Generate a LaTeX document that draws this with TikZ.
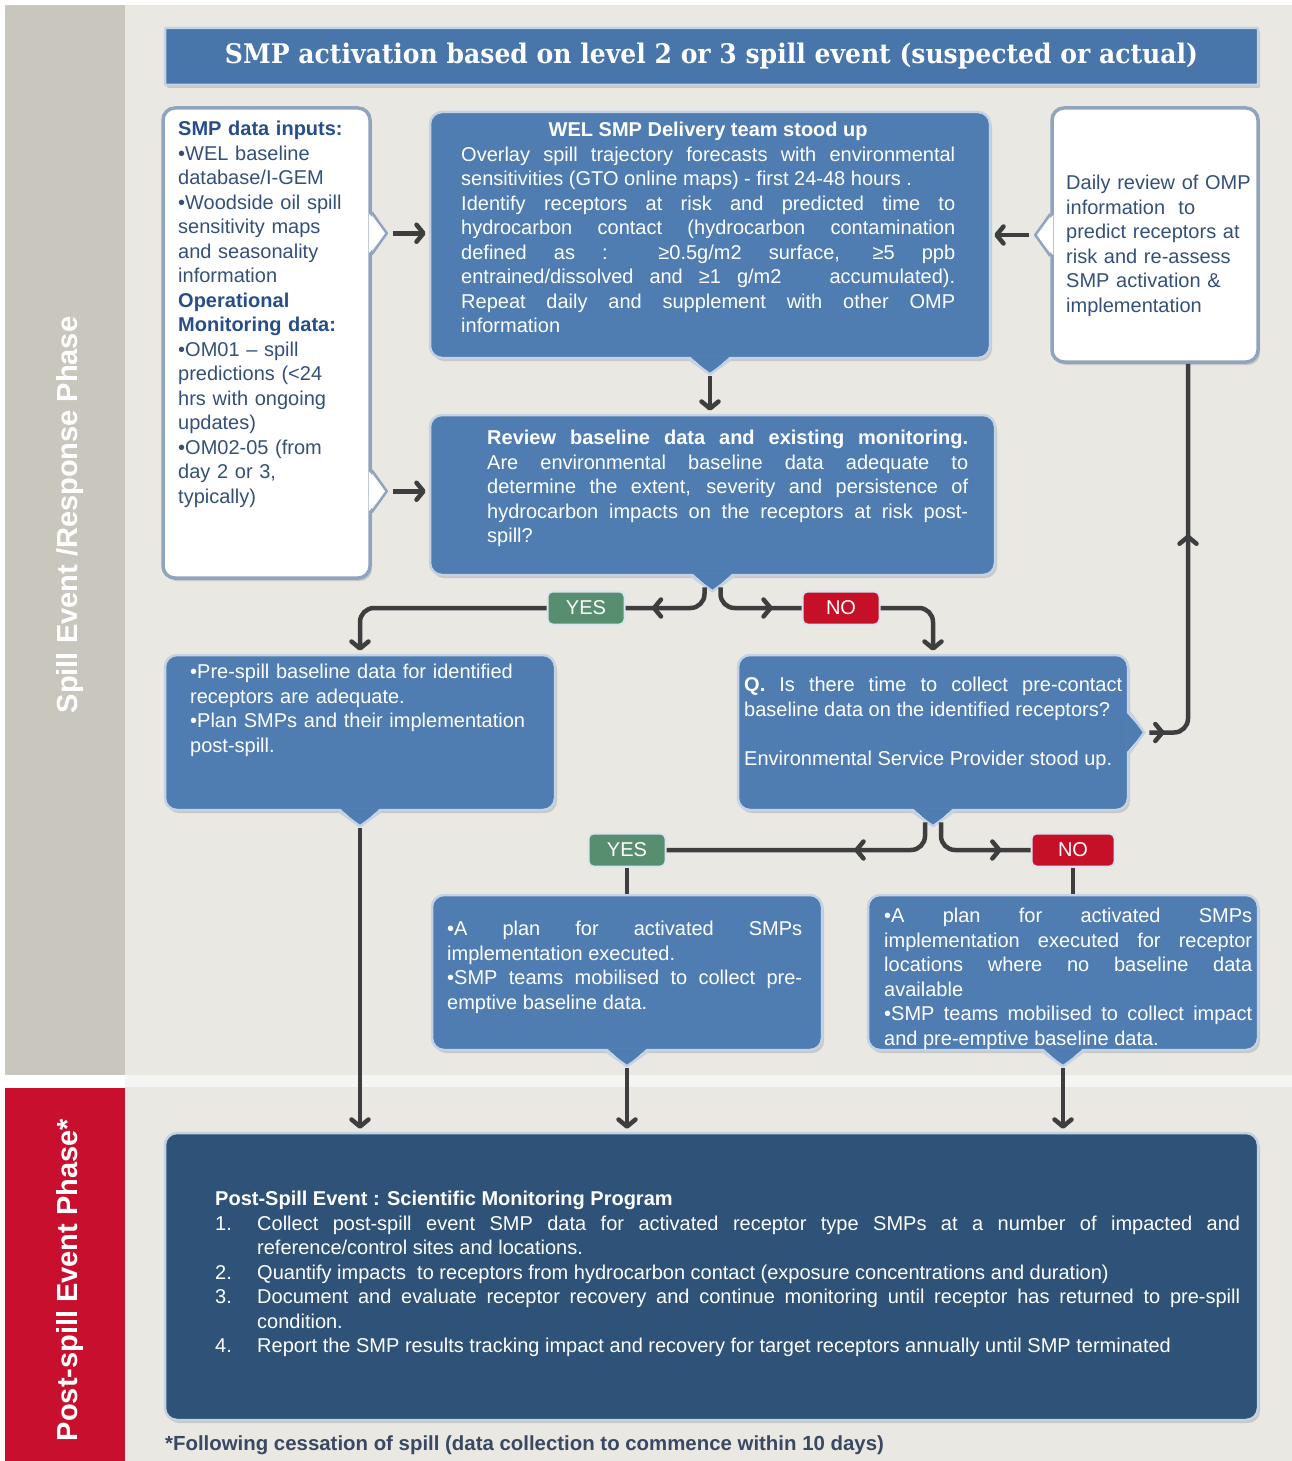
\documentclass[tikz,border=0pt]{standalone}
\usepackage{fontspec}
\setmainfont{Liberation Sans}
\newfontfamily\slabfont{DejaVu Serif}
\usetikzlibrary{arrows.meta,positioning,calc,shadows,decorations.markings}

\definecolor{pagebg}{RGB}{233,232,227}
\definecolor{sidegrey}{RGB}{201,199,189}
\definecolor{sidered}{RGB}{200,16,46}
\definecolor{boxblue}{RGB}{79,125,178}
\definecolor{barblue}{RGB}{72,117,170}
\definecolor{deepblue}{RGB}{46,82,120}
\definecolor{rimblue}{RGB}{196,211,228}
\definecolor{rimgrey}{RGB}{145,164,190}
\definecolor{inktext}{RGB}{52,80,122}
\definecolor{headtext}{RGB}{40,78,138}
\definecolor{yesgreen}{RGB}{88,142,112}
\definecolor{nored}{RGB}{198,16,40}
\definecolor{wire}{RGB}{62,62,62}
\definecolor{notegrey}{RGB}{58,72,98}

\begin{document}
\begin{tikzpicture}[
  x=1pt,y=-1pt,
  font=\fontsize{20}{24.5}\selectfont,
  >={Straight Barb[round,length=7pt,width=17pt]},
  box/.style={rounded corners=12pt,line width=2.5pt,inner sep=0pt,
              drop shadow={opacity=.3,shadow xshift=2pt,shadow yshift=-3pt}},
  bluebox/.style={box,draw=rimblue,fill=boxblue},
  whitebox/.style={box,draw=rimgrey,line width=3.5pt,fill=white},
  txt/.style={anchor=north west,inner sep=0pt,text=white},
  jtxt/.style={txt,align=justify,text width=#1},
  ltxt/.style={txt,align=left,text width=#1},
  tag/.style={rounded corners=5pt,draw=rimblue!60!white,line width=2pt,text=white,
              minimum width=77pt,minimum height=33pt,inner sep=0pt},
  flow/.style={draw=wire,line width=4.5pt,rounded corners=14pt},
  midarr/.style={postaction={decorate,decoration={markings,
              mark=at position #1 with {\arrow{Straight Barb[round,length=7pt,width=17pt]}}}}},
  pics/tip/.style n args={2}{code={
      \fill[#1] (-20,-3) -- (0,15) -- (20,-3) -- cycle;
      \draw[#2,line width=2.5pt,line join=round] (-21,0) -- (0,15) -- (21,0);
      \coordinate (-end) at (0,15);}},
]

% ---- backdrop and phase bands -------------------------------------------
\useasboundingbox (0,0) rectangle (1292,1461);
\fill[white] (0,0) rectangle (1292,1461);
\fill[pagebg] (125,5) rectangle (1292,1461);
\fill[sidegrey] (5,5) rectangle (125,1075);
\fill[sidered] (5,1088) rectangle (125,1461);
\fill[white!55!pagebg] (125,1075) rectangle (1292,1087);
\node[rotate=90,text=white,font=\fontsize{29}{31}\selectfont\bfseries] (phase1) at (70,515) {Spill Event /Response Phase};
\node[rotate=90,text=white,font=\fontsize{29}{31}\selectfont\bfseries] (phase2) at (70,1280) {Post-spill Event Phase*};

% ---- activation banner ---------------------------------------------------
\node[box,draw=rimblue,fill=barblue,rounded corners=1pt,minimum width=1093pt,minimum height=57pt,
      text=white,font=\slabfont\bfseries\fontsize{27}{30}\selectfont] (title) at (711.5,56.5)
   {\resizebox{973pt}{\height}{SMP activation based on level 2 or 3 spill event (suspected or actual)}};

% ---- response phase boxes ------------------------------------------------
\node[whitebox,minimum width=207pt,minimum height=470pt] (inputs) at (266.5,343) {};
\node[bluebox,minimum width=560pt,minimum height=246pt] (wel)    at (710,235)   {};
\node[whitebox,minimum width=206pt,minimum height=254pt] (daily) at (1155,235)  {};
\node[bluebox,minimum width=565pt,minimum height=160pt] (review) at (712.5,495) {};
\node[bluebox,minimum width=390pt,minimum height=155pt] (pre)    at (360,732.5) {};
\node[bluebox,minimum width=390pt,minimum height=155pt] (quest)  at (933,732.5) {};
\node[bluebox,minimum width=390pt,minimum height=155pt] (plana)  at (627,972.5) {};
\node[bluebox,minimum width=390pt,minimum height=155pt] (planb)  at (1063,972.5) {};

% pointers on the box rims
\pic[rotate=90]  (inA) at ($(inputs.north east)+(0,127)$) {tip={white}{rimgrey}};
\pic[rotate=90]  (inB) at ($(inputs.north east)+(0,385)$) {tip={white}{rimgrey}};
\pic[rotate=-90] (dl)  at (daily.west)   {tip={white}{rimgrey}};
\pic             (wl)  at (wel.south)    {tip={boxblue}{rimblue}};
\pic             (rv)  at (review.south) {tip={boxblue}{rimblue}};
\pic             (pr)  at (pre.south)    {tip={boxblue}{rimblue}};
\pic             (qs)  at (quest.south)  {tip={boxblue}{rimblue}};
\pic[rotate=90]  (qr)  at (quest.east)   {tip={boxblue}{rimblue}};
\pic             (pa)  at (plana.south)  {tip={boxblue}{rimblue}};
\pic             (pb)  at (planb.south)  {tip={boxblue}{rimblue}};

% texts
\node[ltxt=192pt,text=inktext] (inputs-txt) at (178,121)
  {{\bfseries\color{headtext}SMP data inputs:}\\
   •WEL baseline\\ database/I-GEM\\ •Woodside oil spill\\ sensitivity maps\\
   and seasonality\\ information\\
   {\bfseries\color{headtext}Operational}\\ {\bfseries\color{headtext}Monitoring data:}\\
   •OM01 – spill\\ predictions (<24\\ hrs with ongoing\\ updates)\\
   •OM02-05 (from\\ day 2 or 3,\\ typically)};
\node[jtxt=494pt] (wel-txt) at (461,122)
  {{\centering\bfseries WEL SMP Delivery team stood up\par}
   Overlay spill trajectory forecasts with environmental\linebreak
   sensitivities (GTO online maps) - first 24-48 hours .\\
   Identify receptors at risk and predicted time to\linebreak
   hydrocarbon contact (hydrocarbon contamination\linebreak
   defined as : ≥0.5g/m2 surface, ≥5 ppb\linebreak
   entrained/dissolved and ≥1 g/m2 \ \ accumulated).\linebreak
   Repeat daily and supplement with other OMP\linebreak
   information};
\node[ltxt=196pt,text=inktext] (daily-txt) at (1066,175)
  {Daily review of OMP\\ information \ to\\ predict receptors at\\ risk and re-assess\\
   SMP activation \&\\ implementation};
\node[jtxt=481pt] (review-txt) at (487,430)
  {{\bfseries Review baseline data and existing monitoring.}\linebreak
   Are environmental baseline data adequate to\linebreak
   determine the extent, severity and persistence of\linebreak
   hydrocarbon impacts on the receptors at risk post-\linebreak
   spill?};
\node[ltxt=360pt] (pre-txt) at (190,664)
  {•Pre-spill baseline data for identified\\ receptors are adequate.\\
   •Plan SMPs and their implementation\\ post-spill.};
\node[jtxt=378pt] (quest-txt) at (744,677)
  {{\bfseries Q.} Is there time to collect pre-contact\linebreak
   baseline data on the identified receptors?\\[24.5pt]
   Environmental Service Provider stood up.};
\node[jtxt=355pt] (plana-txt) at (447,921)
  {•A plan for activated SMPs\linebreak implementation executed.\\
   •SMP teams mobilised to collect pre-\linebreak emptive baseline data.};
\node[jtxt=368pt] (planb-txt) at (884,908)
  {•A plan for activated SMPs\linebreak implementation executed for receptor\linebreak
   locations where no baseline data\linebreak available\\
   •SMP teams mobilised to collect impact\linebreak and pre-emptive baseline data.};

% ---- decision tags -------------------------------------------------------
\node[tag,fill=yesgreen] (yes1) at (586,608)  {YES};
\node[tag,fill=nored]    (no1)  at (841,608)  {NO};
\node[tag,fill=yesgreen] (yes2) at (627,850)  {YES};
\node[tag,fill=nored,minimum width=83pt] (no2) at (1073,850) {NO};

% ---- post-spill programme ------------------------------------------------
\node[box,draw=rimblue,fill=deepblue,minimum width=1093pt,minimum height=287pt] (post) at (711.5,1276.5) {};
\node[jtxt=1025pt] (post-txt) at (215,1191)
  {{\bfseries Post-Spill Event : Scientific Monitoring Program}\par
   \hangindent=42pt\hangafter=1\makebox[42pt][l]{1.}Collect post-spill event SMP data for activated receptor type SMPs at a number of impacted and\linebreak
     reference/control sites and locations.\par
   \hangindent=42pt\hangafter=1\makebox[42pt][l]{2.}Quantify impacts \ to receptors from hydrocarbon contact (exposure concentrations and duration)\par
   \hangindent=42pt\hangafter=1\makebox[42pt][l]{3.}Document and evaluate receptor recovery and continue monitoring until receptor has returned to pre-spill\linebreak
     condition.\par
   \hangindent=42pt\hangafter=1\makebox[42pt][l]{4.}Report the SMP results tracking impact and recovery for target receptors annually until SMP terminated};
\node[txt,text=notegrey,font=\fontsize{20.4}{24.5}\selectfont\bfseries] (note) at (165,1435)
  {*Following cessation of spill (data collection to commence within 10 days)};

% ---- connectors ----------------------------------------------------------
\draw[flow,->,shorten <=6pt,shorten >=3pt] (inA-end) -- (inA-end -| wel.west);
\draw[flow,->,shorten <=6pt,shorten >=3pt] (inB-end) -- (inB-end -| review.west);
\draw[flow,->,shorten <=6pt,shorten >=3pt] (dl-end)  -- (dl-end -| wel.east);
\draw[flow,->,shorten <=2pt,shorten >=3pt] (wl-end)  -- (wl-end |- review.north);

\draw[flow,midarr=0.72] ($(rv-end)+(-8,-4)$) |- (yes1.east);
\draw[flow,midarr=0.70] ($(rv-end)+(8,-4)$)  |- (no1.west);
\draw[flow,->,shorten >=3pt] (yes1.west) -| (pre.north);
\draw[flow,->,shorten >=3pt] (no1.east)  -| (quest.north);

\draw[flow,midarr=0.33] ($(qs-end)+(-8,-4)$) |- (yes2.east);
\draw[flow,midarr=0.74] ($(qs-end)+(8,-4)$)  |- (no2.west);
\draw[flow] (yes2.south) -- (yes2.south |- plana.north);
\draw[flow] (no2.south)  -- (no2.south |- planb.north);

\coordinate (dup) at ($(daily.south)+(33,0)$);
\draw[flow,shorten <=5pt,midarr=0.05,midarr=0.58] (qr-end) -| (dup);

\draw[flow,->,shorten <=2pt,shorten >=3pt] (pr-end) -- (pr-end |- post.north);
\draw[flow,->,shorten <=2pt,shorten >=3pt] (pa-end) -- (pa-end |- post.north);
\draw[flow,->,shorten <=2pt,shorten >=3pt] (pb-end) -- (pb-end |- post.north);

\end{tikzpicture}
\end{document}
